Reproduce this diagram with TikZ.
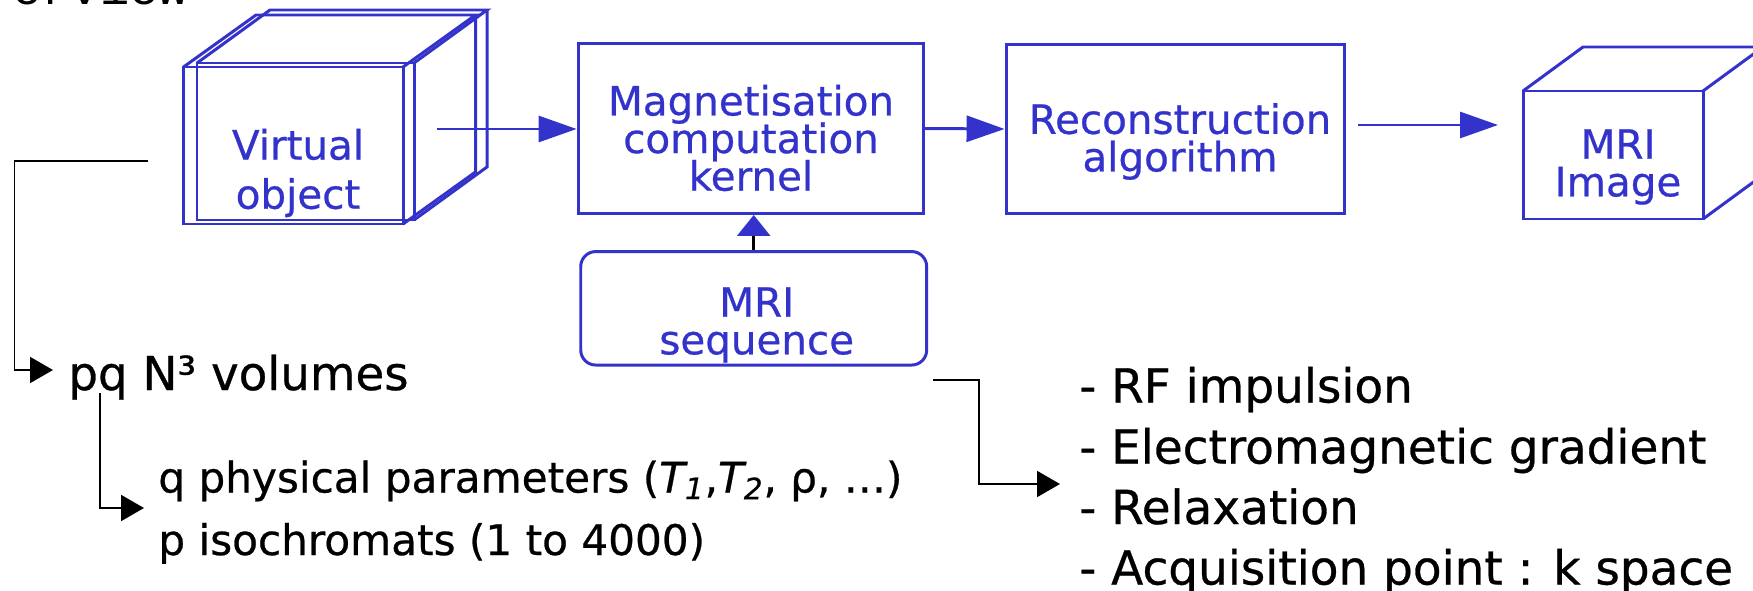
\documentclass[tikz,border=0pt]{standalone}
\usepackage{fontspec}
\setmainfont{DejaVu Sans}[FakeBold=0.6]
\newfontfamily\headmono{Liberation Mono}
\usetikzlibrary{arrows.meta}
\definecolor{mriblue}{RGB}{51,51,204}
\newcommand\tightlines{\lineskiplimit=-100pt\relax}
\begin{document}
\begin{tikzpicture}[x=0.02cm, y=-0.02cm,
  wire/.style={draw=mriblue, line width=1.7pt, line join=miter},
  bluebox/.style={draw=mriblue, line width=1.7pt, inner sep=0pt},
  bluetxt/.style={text=mriblue, align=center, inner sep=0pt,
    font=\fontsize{23}{21.4}\selectfont\tightlines},
  blacktxt/.style={text=black, anchor=base west, inner sep=0pt},
  bluearrow/.style={draw=mriblue, line width=1.7pt,
    -{Triangle[length=0.76cm, width=0.52cm]}},
  blackarrow/.style={draw=black, line width=1.1pt,
    -{Triangle[length=0.46cm, width=0.52cm]}}]

\useasboundingbox (0,0) rectangle (1753,591);
\clip (0,0) rectangle (1753,591);

% heading, cut off at the top edge
\node[anchor=base west, inner sep=0pt, font=\headmono\fontsize{27.8}{30}\selectfont] (head) at (12,4.5) {erview};

% virtual object: two overlapping wireframe boxes
\draw[wire] (183.5,67) rectangle (403,224);
\draw[wire] (183.5,67) -- (256,15) -- (475.5,15) -- (403,67);
\draw[wire] (475.5,15) -- (475.5,172) -- (403,224);
\draw[wire] (197,63) rectangle (414,220);
\draw[wire] (197,63) -- (270,10) -- (487,10) -- (414,63);
\draw[wire] (487,10) -- (487,167) -- (414,220);
\node[bluetxt, font=\fontsize{23}{28}\selectfont\tightlines] (vobj) at (298,173) {Virtual\\object};

% processing blocks
\node[bluebox, minimum width=6.91cm, minimum height=3.4cm] (mag) at (750.8,128.5) {};
\node[bluetxt] (magtxt) at (751,138) {Magnetisation\\computation\\kernel};
\node[bluebox, minimum width=6.78cm, minimum height=3.38cm] (rec) at (1175.5,129) {};
\node[bluetxt] (rectxt) at (1180,141.5) {Reconstruction\\algorithm};
\node[bluebox, rounded corners=0.3cm, minimum width=6.92cm, minimum height=2.27cm] (seq) at (753.7,308.3) {};
\node[bluetxt] (seqtxt) at (756.7,325) {MRI\\sequence};

% output image box
\draw[wire] (1523,91) rectangle (1703,219);
\draw[wire] (1523,91) -- (1583,47) -- (1763,47) -- (1703,91);
\draw[wire] (1763,47) -- (1763,175) -- (1703,219);
\node[bluetxt] (imgtxt) at (1618,167) {MRI\\Image};

% main flow
\coordinate (vo-out) at (437,129);
\coordinate (rec-out) at (1358,125);
\coordinate (img-in) at (1498,125);
\draw[bluearrow] (vo-out) -- (vo-out -| mag.west);
\draw[bluearrow] (mag.east) -- (rec.west);
\draw[bluearrow] (rec-out) -- (img-in);
\draw[draw=black, line width=1.5pt, -{Triangle[length=0.42cm, width=0.66cm, color=mriblue]}]
  (seq.north) -- (seq.north |- mag.south);

% annotations
\node[blacktxt, font=\fontsize{26.6}{30}\selectfont] (pq) at (68,390) {pq N³ volumes};
\node[blacktxt, font=\fontsize{24}{28}\selectfont] (par1) at (158,492.5)
  {q physical parameters ({\itshape T\textsubscript{1}},{\itshape T\textsubscript{2}}, ρ, …)};
\node[blacktxt, font=\fontsize{24}{28}\selectfont] (par2) at (158,555) {p isochromats (1 to 4000)};

\node[blacktxt, font=\fontsize{26.7}{30}\selectfont] (l1) at (1079,402.5) {- RF impulsion};
\node[blacktxt, font=\fontsize{26.7}{30}\selectfont] (l2) at (1079,463.5) {- Electromagnetic gradient};
\node[blacktxt, font=\fontsize{26.7}{30}\selectfont] (l3) at (1079,524) {- Relaxation};
\node[blacktxt, font=\fontsize{26.7}{30}\selectfont] (l4) at (1079,584.5) {- Acquisition point : k space};

\coordinate (vo-tail) at (148,160.7);
\coordinate (pq-in) at (53,370);
\draw[blackarrow] (vo-tail) -- (14.5,160.7) |- (pq-in);
\coordinate (pq-tail) at (100,393);
\coordinate (par-in) at (144,508);
\draw[blackarrow] (pq-tail) |- (par-in);
\coordinate (seq-tail) at (933,380);
\coordinate (list-in) at (1060,484);
\draw[blackarrow] (seq-tail) -- (979,380) |- (list-in);
\end{tikzpicture}
\end{document}
